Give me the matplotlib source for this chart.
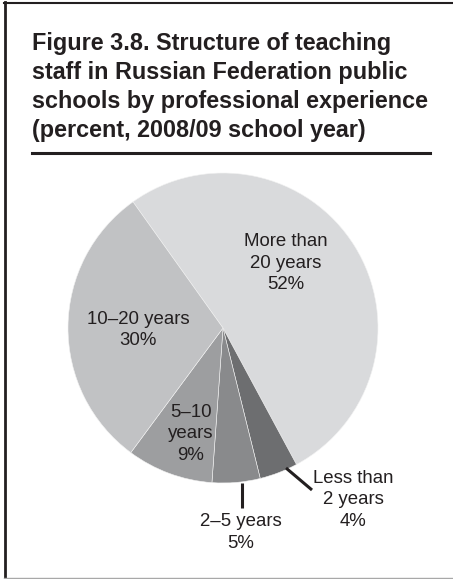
import matplotlib
matplotlib.use("Agg")
import matplotlib.pyplot as plt
from matplotlib.lines import Line2D

plt.rcParams['font.family'] = ['Liberation Sans', 'DejaVu Sans']

# Teaching staff by years of professional experience (percent)
categories = ['More than\n20 years', 'Less than\n2 years', '2\u20135 years', '5\u201310\nyears', '10\u201320 years']
shares = [52, 4, 5, 9, 30]
colors = ['#d9dadc', '#6d6e70', '#898a8c', '#9d9ea0', '#c1c2c4']

title = ('Figure 3.8. Structure of teaching\n'
         'staff in Russian Federation public\n'
         'schools by professional experience\n'
         '(percent, 2008/09 school year)')

W, H = 453, 579
CX, CY, R = 223, 328, 155   # pie centre and radius in pixels


def to_data(px, py):
    # pixel position (from top-left) -> pie axes coordinates
    return (px - CX) / R, (CY - py) / R


# label centres and leader lines, in pixels
label_pos = [(285.5, 263), (353, 500), (240.5, 532.5), (191, 434), (138, 330)]
leaders = {1: ((286, 468), (312, 490)), 2: ((242, 483), (242, 508))}

fig = plt.figure(figsize=(W / 100, H / 100), dpi=100)
fig.patch.set_facecolor('white')

ax = fig.add_axes([(CX - R) / W, (H - CY - R) / H, 2 * R / W, 2 * R / H])
ax.pie(shares, colors=colors, startangle=125.5, counterclock=False, radius=1,
       wedgeprops=dict(edgecolor='#f2f2f2', linewidth=0.4))
ax.set_xlim(-1, 1)
ax.set_ylim(-1, 1)
ax.set_aspect('auto')
ax.axis('off')

for i, (cat, val) in enumerate(zip(categories, shares)):
    x, y = to_data(*label_pos[i])
    ax.text(x, y, f'{cat}\n{val}%', ha='center', va='center', multialignment='center',
            fontsize=13.4, color='#231f20', linespacing=1.33, clip_on=False)

for i, (p0, p1) in leaders.items():
    x0, y0 = to_data(*p0)
    x1, y1 = to_data(*p1)
    ax.plot([x0, x1], [y0, y1], color='#231f20', linewidth=2.2, clip_on=False,
            solid_capstyle='butt')

# title block
fig.text(32 / W, 1 - 32.3 / H, title, ha='left', va='top', fontsize=16.8,
         fontweight='bold', color='#231f20', linespacing=1.33)
fig.add_artist(Line2D([32 / W, 430 / W], [1 - 152.5 / H] * 2, color='#231f20',
                      linewidth=2.2, transform=fig.transFigure))

# frame
fig.add_artist(Line2D([4.7 / W, 4.7 / W], [0, 1 - 2 / H], color='#231f20',
                      linewidth=2.0, transform=fig.transFigure))
fig.add_artist(Line2D([3.5 / W, 1], [1 - 3 / H] * 2, color='#231f20',
                      linewidth=1.5, transform=fig.transFigure))
fig.add_artist(Line2D([3.5 / W, 1], [1 - 577.8 / H] * 2, color='#a8a8a8',
                      linewidth=1.0, transform=fig.transFigure))

fig.savefig('out.png', dpi=100, facecolor='white')
